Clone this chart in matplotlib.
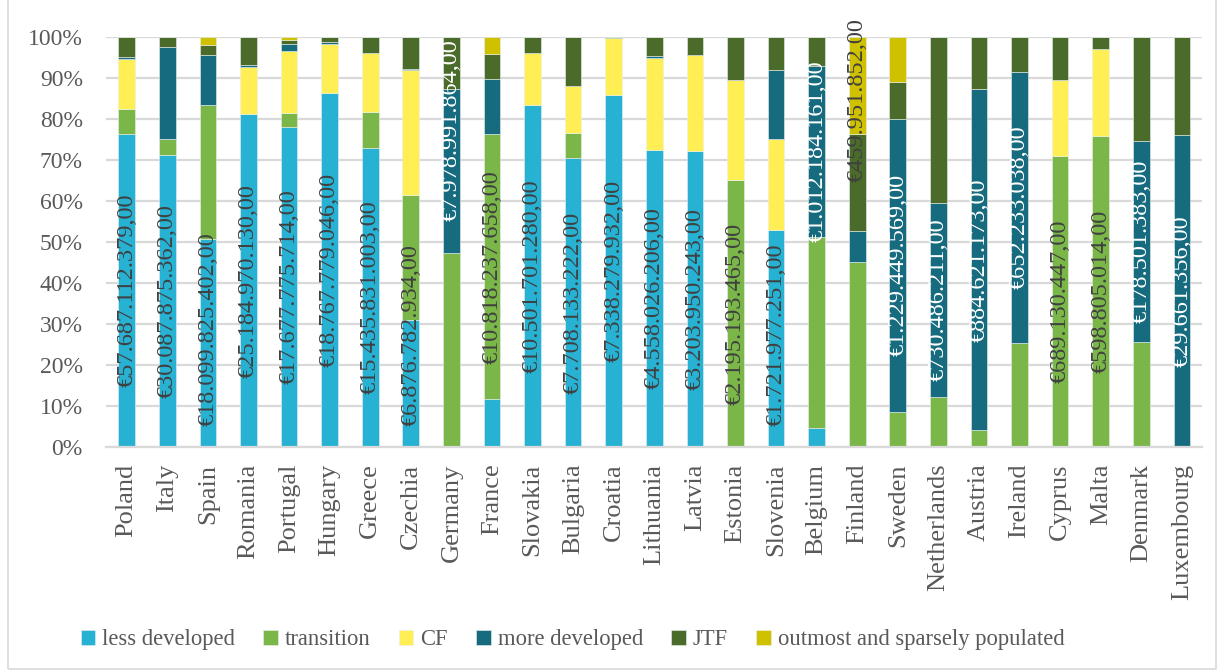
import numpy as np
import matplotlib
matplotlib.use("Agg")
import matplotlib.pyplot as plt
from matplotlib.patches import Rectangle

plt.rcParams['font.family'] = ['Liberation Serif', 'DejaVu Serif']

countries = ["Poland", "Italy", "Spain", "Romania", "Portugal", "Hungary", "Greece",
             "Czechia", "Germany", "France", "Slovakia", "Bulgaria", "Croatia",
             "Lithuania", "Latvia", "Estonia", "Slovenia", "Belgium", "Finland",
             "Sweden", "Netherlands", "Austria", "Ireland", "Cyprus", "Malta",
             "Denmark", "Luxembourg"]

series = ["less developed", "transition", "CF", "more developed", "JTF",
          "outmost and sparsely populated"]

# shares in %
less_developed = [76.4, 71.3, 50.8, 81.1, 78.1, 86.3, 72.9, 31.0, 0, 11.6, 83.3, 70.4,
                  85.8, 72.4, 72.1, 0, 52.9, 4.7, 0, 0, 0, 0, 0, 0, 0, 0, 0]
transition = [6.0, 3.7, 32.5, 0, 3.4, 0, 8.8, 30.5, 47.3, 64.7, 0, 6.1,
              0, 0, 0, 65.0, 0, 46.5, 45.0, 8.6, 12.2, 4.1, 25.3, 71.0, 75.9, 25.6, 0]
cf = [12.3, 0, 0, 11.6, 15.1, 12.0, 14.4, 30.4, 0, 0, 12.9, 11.5,
      13.9, 22.4, 23.5, 24.4, 22.3, 0, 0, 0, 0, 0, 0, 18.4, 21.1, 0, 0]
more_developed = [0.3, 22.6, 12.4, 0.4, 1.8, 0.5, 0, 0.4, 40.0, 13.4, 0, 0,
                  0, 0.5, 0, 0, 16.8, 41.7, 7.7, 71.5, 47.4, 83.1, 66.2, 0, 0, 48.9, 76.1]
jtf = [5.0, 2.4, 2.3, 6.9, 0.9, 1.2, 3.9, 7.7, 12.7, 6.1, 3.8, 12.0,
       0.3, 4.7, 4.4, 10.6, 8.0, 7.1, 23.6, 8.9, 40.4, 12.8, 8.5, 10.6, 3.0, 25.5, 23.9]
outmost = [0, 0, 2.0, 0, 0.7, 0, 0, 0, 0, 4.2, 0, 0,
           0, 0, 0, 0, 0, 0, 23.7, 11.0, 0, 0, 0, 0, 0, 0, 0]

label_text = ["€57.687.112.379,00", "€30.087.875.362,00", "€18.099.825.402,00",
              "€25.184.970.130,00", "€17.677.775.714,00", "€18.767.779.046,00",
              "€15.435.831.003,00", "€6.876.782.934,00", "€7.978.991.864,00",
              "€10.818.237.658,00", "€10.501.701.280,00", "€7.708.133.222,00",
              "€7.338.279.932,00", "€4.558.026.206,00", "€3.203.950.243,00",
              "€2.195.193.465,00", "€1.721.977.251,00", "€1.012.184.161,00",
              "€459.951.852,00", "€1.229.449.569,00", "€730.486.211,00",
              "€884.621.173,00", "€652.233.038,00", "€689.130.447,00",
              "€598.805.014,00", "€178.501.383,00", "€29.661.356,00"]
# which series each label belongs to
label_series = [0, 0, 0, 0, 0, 0, 0, 0, 3, 1, 0, 0, 0, 0, 0, 1, 0, 3, 5, 3, 3, 3, 3, 1, 1, 3, 3]

colors = ["#27B1D3", "#7AB648", "#FFEF55", "#176B7F", "#4A6B2A", "#CFC000"]

data = np.array([less_developed, transition, cf, more_developed, jtf, outmost])
data = data / data.sum(axis=0) * 100

fig = plt.figure(figsize=(12.23, 6.72), dpi=100)
ax = fig.add_axes([0.087, 0.335, 0.896, 0.610])

x = np.arange(len(countries))
bottom = np.zeros(len(countries))
for i, name in enumerate(series):
    ax.bar(x, data[i], 0.41, bottom=bottom, color=colors[i], label=name,
           edgecolor="#E8F0F0", linewidth=0.4, zorder=2)
    bottom += data[i]

# value labels centred in their segment, kept inside the chart
lows = np.vstack([np.zeros(len(countries)), np.cumsum(data, axis=0)[:-1]])
nudge = {"Germany": 10}
texts = []
for j, c in enumerate(countries):
    s = label_series[j]
    yc = lows[s, j] + data[s, j] / 2 + nudge.get(c, 0)
    col = "white" if s == 3 else "#404040"
    t = ax.text(x[j], yc, label_text[j], rotation=90, ha="center", va="center",
                fontsize=17.5, color=col, zorder=3, clip_on=False)
    texts.append(t)

ax.set_xlim(-0.5, len(countries) - 0.5)
ax.set_ylim(0, 100)
fig.canvas.draw()
inv = ax.transData.inverted()
for t in texts:
    bb = t.get_window_extent()
    (_, y0), (_, y1) = inv.transform([(bb.x0, bb.y0), (bb.x1, bb.y1)])
    xx, yy = t.get_position()
    if y0 < 5:
        t.set_position((xx, yy + 5 - y0))
    elif y1 > 104.5:
        t.set_position((xx, yy - (y1 - 104.5)))

ax.set_yticks(np.arange(0, 101, 10))
ax.set_yticklabels([f"{v}%" for v in range(0, 101, 10)])
ax.set_xticks(x)
ax.set_xticklabels(countries, rotation=90)
ax.tick_params(axis="y", length=0, pad=17, labelsize=17, labelcolor="#595959")
ax.tick_params(axis="x", length=0, pad=12, labelsize=19, labelcolor="#595959")
ax.grid(axis="y", color="#D9D9D9", linewidth=1.6, zorder=0)
for sp in ["top", "right", "left"]:
    ax.spines[sp].set_visible(False)
ax.spines["bottom"].set_color("#D9D9D9")
ax.spines["bottom"].set_linewidth(1.6)

fig.legend(loc="center", bbox_to_anchor=(0.468, 0.048), ncol=6, frameon=False,
           fontsize=16.3, handlelength=0.65, handleheight=0.65, handletextpad=0.3,
           columnspacing=1.25, labelcolor="#595959")

fig.patches.append(Rectangle((0.0065, 0.005), 0.988, 1.1, transform=fig.transFigure,
                             fill=False, edgecolor="#D9D9D9", linewidth=1.2))

fig.savefig("out.png", dpi=100)
